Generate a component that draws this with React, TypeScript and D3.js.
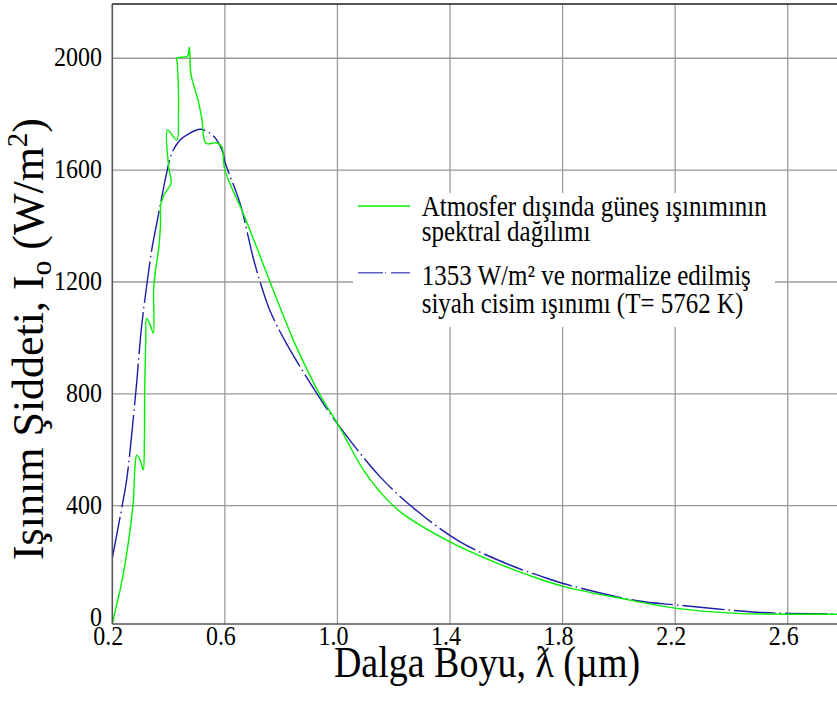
import React from "react";
import * as d3 from "d3";

const xTicks = [0.2, 0.6, 1.0, 1.4, 1.8, 2.2, 2.6];
const yTicks = [0, 400, 800, 1200, 1600, 2000];

// Extraterrestrial solar spectrum
const solarWl = [
  0.2, 0.212, 0.228, 0.245, 0.263, 0.275, 0.281, 0.287, 0.3, 0.31, 0.314, 0.315, 0.319, 0.322, 0.335,
  0.346, 0.347, 0.352, 0.365, 0.371, 0.373, 0.387, 0.409, 0.401, 0.396, 0.429, 0.435, 0.431,
  0.429, 0.467, 0.474, 0.479, 0.506, 0.518, 0.533, 0.571, 0.589, 0.6, 0.665, 0.713, 0.76, 0.843,
  0.873, 0.938, 1.003, 1.092, 1.151, 1.222, 1.388, 1.554, 1.72, 1.809, 2.006, 2.207, 2.42, 2.598,
  2.8,
];
const solarI = [
  -22, 30, 100, 190, 313, 420, 545, 581, 560, 528, 635, 802, 993, 1070, 1045, 1017, 1171, 1231, 1320,
  1400, 1481, 1517, 1553, 1607, 1744, 1708, 1803, 1982, 2000, 2008, 2039, 1946, 1845, 1785, 1696,
  1698, 1684, 1600, 1446, 1324, 1201, 993, 927, 796, 689, 528, 450, 379, 277, 200, 137, 110, 69,
  33, 15, 12, 12,
];

// Normalized blackbody (T = 5762 K)
const bbWl = [
  0.2, 0.235, 0.251, 0.283, 0.304, 0.324, 0.34, 0.358, 0.376, 0.393, 0.411, 0.441, 0.47, 0.512,
  0.547, 0.571, 0.594, 0.6, 0.654, 0.701, 0.73, 0.76, 0.82, 0.938, 1.003, 1.151, 1.282, 1.436, 1.613,
  1.755, 1.809, 2.065, 2.207, 2.491, 2.598, 2.8,
];
const bbI = [
  212, 400, 492, 800, 1040, 1200, 1314, 1410, 1505, 1589, 1660, 1708, 1729, 1746, 1732, 1708,
  1660, 1630, 1481, 1285, 1185, 1098, 978, 784, 689, 504, 382, 271, 188, 137, 120, 60, 45, 19, 15, 13,
];

const legendSolar = ["Atmosfer dışında güneş ışınımının", "spektral dağılımı"];
const legendBB = ["1353 W/m² ve normalize edilmiş", "siyah cisim ışınımı (T= 5762 K)"];

const FONT = "'Liberation Serif', 'Times New Roman', serif";
const GREEN = "#00f000";
const BLUE = "#1c1ca8";
const SY = 1.15;

export default function App() {
  const W = 837;
  const H = 705;
  const left = 112.3;
  const bottom = 624;
  const top = 4;
  const x = d3.scaleLinear().domain([0.2, 2.8]).range([left, 844]);
  const y = d3.scaleLinear().domain([-23, 2194]).range([bottom, top]);

  const mk = d3
    .line<[number, number]>()
    .x((d) => x(d[0]))
    .y((d) => y(d[1]))
    .curve(d3.curveCatmullRom.alpha(0.5));
  const solarPath = mk(solarWl.map((w, i) => [w, solarI[i]] as [number, number]));
  const bbPath = mk(bbWl.map((w, i) => [w, bbI[i]] as [number, number]));

  const T = (
    tx: number,
    ty: number,
    content: React.ReactNode,
    size: number,
    anchor: string = "start",
    key?: string
  ) => (
    <text
      key={key}
      transform={`translate(${tx},${ty}) scale(1,${SY})`}
      fontSize={size}
      textAnchor={anchor}
      fill="#000"
    >
      {content}
    </text>
  );

  return (
    <svg
      width={W}
      height={H}
      style={{ position: "absolute", left: 0, top: 0, background: "#fff" }}
      fontFamily={FONT}
    >
      <defs>
        <clipPath id="plot">
          <rect x={left} y={top} width={W - left} height={bottom - top} />
        </clipPath>
      </defs>
      <rect x={0} y={0} width={W} height={H} fill="#fff" />
      {/* grid */}
      <g stroke="#9a9a9a" strokeWidth={1.3}>
        {xTicks.slice(1).map((t) => (
          <line key={"gx" + t} x1={x(t)} x2={x(t)} y1={top} y2={bottom} />
        ))}
        {yTicks.slice(1).map((t) => (
          <line key={"gy" + t} x1={left} x2={W} y1={y(t)} y2={y(t)} />
        ))}
      </g>
      {/* legend box */}
      <rect x={353} y={193} width={422} height={134} fill="#fff" />
      <g clipPath="url(#plot)" fill="none">
        <path d={bbPath || ""} stroke={BLUE} strokeWidth={1.4} strokeDasharray="42,4,1.5,4" />
        <path d={solarPath || ""} stroke={GREEN} strokeWidth={1.4} />
      </g>
      {/* axes */}
      <line x1={left} x2={left} y1={top} y2={bottom} stroke="#555" strokeWidth={1.6} />
      <line x1={left} x2={W} y1={bottom} y2={bottom} stroke="#555" strokeWidth={1.6} />
      <line x1={left} x2={W} y1={top} y2={top} stroke="#222" strokeWidth={1.4} />
      {/* tick labels */}
      {yTicks.map((t) => T(102, y(t) + 8, String(t), 24, "end", "ty" + t))}
      {xTicks.map((t) => T(x(t) - 4, 645, t.toFixed(1), 24, "middle", "tx" + t))}
      {/* legend */}
      <line x1={358} x2={410} y1={206} y2={206} stroke={GREEN} strokeWidth={1.4} />
      <line
        x1={358}
        x2={410}
        y1={272.7}
        y2={272.7}
        stroke={BLUE}
        strokeWidth={1.4}
        strokeDasharray="25,2,1,5"
        opacity={0.7}
      />
      {T(421.7, 215.7, legendSolar[0], 25, "start", "l1")}
      {T(421.7, 241, legendSolar[1], 25, "start", "l2")}
      {T(421.7, 285, legendBB[0], 25, "start", "l3")}
      {T(421.7, 313, legendBB[1], 25, "start", "l4")}
      {/* axis titles */}
      {T(487, 677, "Dalga Boyu, ƛ (µm)", 38, "middle", "xt")}
      <text
        transform="translate(43,339) rotate(-90)"
        fontSize={44}
        textAnchor="middle"
        fill="#000"
      >
        Işınım Şiddeti, I
        <tspan fontSize={29} dy={8}>o</tspan>
        <tspan dy={-8}> (W/m</tspan>
        <tspan fontSize={29} dy={-16}>2</tspan>
        <tspan dy={16}>)</tspan>
      </text>
    </svg>
  );
}
